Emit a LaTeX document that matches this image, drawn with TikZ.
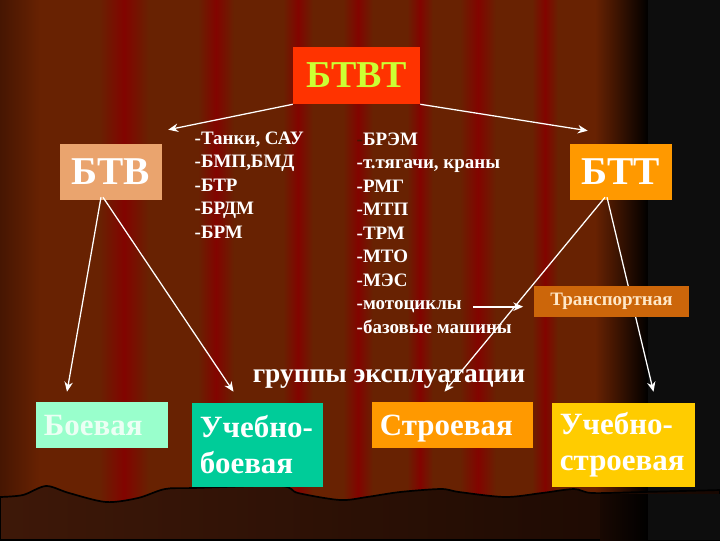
\documentclass[tikz,border=0pt]{standalone}
\usepackage{fontspec}
\setmainfont{Liberation Serif}
\usetikzlibrary{arrows.meta}
\definecolor{curtainbrown}{RGB}{104,34,2}
\definecolor{curtainred}{RGB}{130,4,0}
\definecolor{curtaindark}{RGB}{70,22,2}
\definecolor{floorleft}{RGB}{62,24,8}
\definecolor{floormid}{RGB}{78,16,4}
\definecolor{floorright}{RGB}{24,8,2}
\definecolor{btvtred}{RGB}{255,51,0}
\definecolor{btvtyellow}{RGB}{204,255,51}
\definecolor{btvpeach}{RGB}{234,164,110}
\definecolor{bttorange}{RGB}{255,153,0}
\definecolor{transporange}{RGB}{204,102,10}
\definecolor{transptext}{RGB}{255,232,200}
\definecolor{mintgreen}{RGB}{153,255,204}
\definecolor{minttext}{RGB}{236,255,244}
\definecolor{tealgreen}{RGB}{0,204,153}
\definecolor{goldyellow}{RGB}{255,204,0}
\newcommand{\pxu}{0.025cm}

\begin{document}
\begin{tikzpicture}[x=0.025cm, y=-0.025cm,
    box/.style={inner xsep=0.2cm, inner ysep=0pt, align=left, text=white},
    item/.style={anchor=base west, inner sep=1pt, text=white, font=\bfseries\fontsize{13.5}{16}\selectfont},
    bigbox/.style={box, font=\bfseries\fontsize{28}{30}\selectfont, minimum width=102*\pxu, minimum height=56*\pxu},
    groupbox/.style={box, font=\bfseries\fontsize{22}{25.6}\selectfont},
    oneline/.style={groupbox, text height=14.5pt, text depth=0pt, minimum height=46*\pxu},
    conn/.style={draw=white, line width=0.9pt, -{Stealth[length=7pt,width=6pt]}}]
  \useasboundingbox (0,0) rectangle (720,540);
  % curtain
  \fill[curtainbrown] (0,0) rectangle (720,540);
  \shade[left color=curtaindark, right color=curtainbrown] (0,0) rectangle (40,540);
  \foreach \c/\w in {124/50, 216/36, 298/30, 358/30, 420/26, 478/36, 545/26}
    \shade[left color=curtainbrown, right color=curtainbrown, middle color=curtainred] (\c-\w/2,0) rectangle (\c+\w/2,540);
  \shade[left color=curtainbrown, right color=black] (595,0) rectangle (648,540);
  \fill[black!95] (648,0) rectangle (720,540);
  % floor
  \shadedraw[left color=floorleft, middle color=floormid, right color=floorright, draw=black, line width=1.2pt]
    plot[smooth] coordinates {(0,497) (23,495) (46,486) (69,493) (106,502) (138,498) (165,489) (193,488)
      (280,486) (298,493) (340,500) (367,497) (400,492) (441,489) (459,492) (505,497) (542,493)
      (574,489) (592,493) (643,492) (720,490)}
    -- (720,540) -- (0,540) -- cycle;
  \shade[left color=floorright, right color=black] (600,494) rectangle (648,540);
  \fill[black!95] (648,494) rectangle (720,540);

  % top level
  \node[box, fill=btvtred, text=btvtyellow, minimum width=127*\pxu, minimum height=57*\pxu,
    font=\bfseries\fontsize{27}{30}\selectfont] (btvt) at (356.5,75.5) {БТВТ};
  \node[bigbox, fill=btvpeach] (btv) at (111,172) {БТВ};
  \node[bigbox, fill=bttorange] (btt) at (621,172) {БТТ};

  % vehicle lists
  \foreach \t [count=\i] in {{-Танки, САУ},{-БМП,БМД},{-БТР},{-БРДМ},{-БРМ}}
    \node[item] (tank\i) at (193,{144+23.5*(\i-1)}) {\t};
  \foreach \t [count=\i] in {{\textcolor{curtaindark}{-}БРЭМ},{-т.тягачи, краны},{-РМГ},{-МТП},{-ТРМ},{-МТО},{-МЭС},{-мотоциклы},{-базовые машины}}
    \node[item] (sup\i) at (355,{145+23.5*(\i-1)}) {\t};

  \node[anchor=base, text=white, font=\bfseries\fontsize{19.5}{22}\selectfont] (groups) at (389,382) {группы эксплуатации};

  % operation groups
  \node[oneline, fill=mintgreen, text=minttext] (combat) at (102,425) {\makebox[2.9cm][l]{Боевая}};
  \node[groupbox, fill=tealgreen, text width=2.875cm, minimum height=84*\pxu] (trcombat) at (257.5,445) {Учебно-\\боевая};
  \node[oneline, fill=bttorange] (drill) at (452.5,425) {\makebox[3.625cm][l]{Строевая}};
  \node[groupbox, fill=goldyellow, text width=3.175cm, minimum height=84*\pxu] (trdrill) at (623.5,445) {Учебно-\\строевая};

  \draw[conn] (btvt.south west) -- ([shift={(6,-14)}]btv.north east);
  \draw[conn] (btvt.south east) -- ([shift={(18,-13)}]btt.north west);
  \draw[conn] ([shift={(-10,-3)}]btv.south) -- ([shift={(-35,-10)}]combat.north);
  \draw[conn] ([shift={(-8,-3)}]btv.south) -- ([shift={(-24,-11)}]trcombat.north);
  \draw[conn] ([shift={(-16,-3)}]btt.south) -- ([shift={(-8,-10)}]drill.north);
  \draw[conn] ([shift={(-14,-3)}]btt.south) -- ([shift={(30,-11)}]trdrill.north);

  % covers the line behind it
  \node[box, fill=transporange, text=transptext, minimum width=155*\pxu, minimum height=31*\pxu,
    font=\bfseries\fontsize{13.5}{15}\selectfont] (transp) at (611.5,301.5) {Транспортная};
  \draw[conn, line width=1.6pt, shorten <=7pt, shorten >=7.5pt] (sup8.east) -- (sup8.east -| transp.west);
\end{tikzpicture}
\end{document}
